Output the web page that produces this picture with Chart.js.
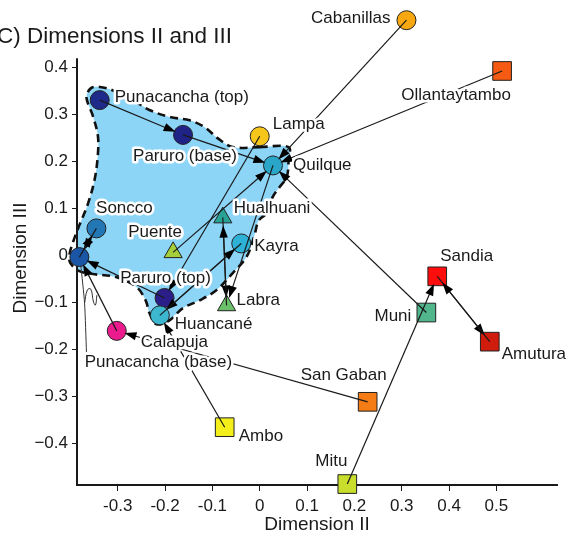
<!DOCTYPE html>
<html>
<head>
<meta charset="utf-8">
<script src="https://cdn.jsdelivr.net/npm/chart.js@4.4.1/dist/chart.umd.min.js"></script>
<style>
  html, body { margin: 0; padding: 0; background: #fff; overflow: hidden; }
  canvas { display: block; }
</style>
</head>
<body>
<canvas id="c" width="569" height="535"></canvas>
<script>
// Sites and their scores on dimensions II and III
const sites = [
  'Punacancha (top)', 'Paruro (base)', 'Lampa', 'Quilque', 'Cabanillas',
  'Ollantaytambo', 'Soncco', 'Punacancha (base)', 'Puente', 'Hualhuani',
  'Kayra', 'Paruro (top)', 'Labra', 'Huancané', 'Calapuja',
  'Sandia', 'Muni', 'Amutura', 'San Gaban', 'Ambo', 'Mitu'
];
const dim2 = [
  -0.338, -0.162, 0.000, 0.028, 0.310,
   0.512, -0.345, -0.381, -0.183, -0.078,
  -0.039, -0.201, -0.070, -0.211, -0.302,
   0.375, 0.352, 0.486, 0.228, -0.074, 0.185
];
const dim3 = [
   0.330, 0.256, 0.253, 0.191, 0.500,
   0.392, 0.057, -0.004, 0.006, 0.080,
   0.025, -0.091, -0.107, -0.128, -0.161,
  -0.045, -0.122, -0.184, -0.312, -0.366, -0.487
];
// Nearest neighbour of each site (arrow target)
const nearest = [
  'Paruro (base)', 'Quilque', 'Paruro (top)', 'Labra', 'Quilque',
  'Quilque', 'Punacancha (base)', 'Soncco', 'Quilque', 'Labra',
  'Huancané', 'Punacancha (base)', 'Hualhuani', 'Kayra', 'Punacancha (base)',
  'Amutura', 'Quilque', 'Sandia', 'Calapuja', 'Huancané', 'Sandia'
];

// Outline of the highlighted group
const hullDim2 = [
   0.000, 0.061, 0.061, 0.057, 0.042, 0.027, 0.017, -0.002, -0.011, -0.027,
  -0.057, -0.091, -0.127, -0.163, -0.190, -0.218, -0.233, -0.241, -0.260, -0.302,
  -0.353, -0.381, -0.400, -0.402, -0.395, -0.381, -0.364, -0.349, -0.342, -0.342,
  -0.353, -0.366, -0.357, -0.338, -0.311, -0.268, -0.233, -0.190, -0.148, -0.116,
  -0.089, -0.057
];
const hullDim3 = [
   0.230, 0.230, 0.202, 0.166, 0.145, 0.123, 0.091, 0.074, 0.043, -0.002,
  -0.038, -0.074, -0.096, -0.113, -0.138, -0.147, -0.123, -0.096, -0.068, -0.047,
  -0.040, -0.034, -0.017, 0.000, 0.026, 0.064, 0.106, 0.160, 0.213, 0.255,
   0.298, 0.336, 0.355, 0.358, 0.351, 0.330, 0.309, 0.294, 0.287, 0.272,
   0.249, 0.230
];

// Leader from the "Punacancha (base)" label to its marker
const leaderStemDim2 = [-0.378, -0.370, -0.366];
const leaderStemDim3 = [-0.021, -0.102, -0.206];
const leaderLoopDim2 = [-0.370, -0.364, -0.357, -0.351, -0.347, -0.344];
const leaderLoopDim3 = [-0.102, -0.074, -0.072, -0.100, -0.106, -0.085];

const xTickValues = [-0.3, -0.2, -0.1, 0, 0.1, 0.2, 0.3, 0.4, 0.5];
const xTickLabels = ['-0.3', '-0.2', '-0.1', '0', '0.1', '0.2', '0.3', '0.4', '0.5'];
const yTickValues = [-0.4, -0.3, -0.2, -0.1, 0, 0.1, 0.2, 0.3, 0.4];
const yTickLabels = ['\u22120.4', '\u22120.3', '\u22120.2', '\u22120.1', '0', '0.1', '0.2', '0.3', '0.4'];

// ---- styling ----
const FONT = '"Liberation Sans", Arial, Helvetica, sans-serif';
const INK = '#1a1a1a';
const Y_AXIS_TOP = 0.417;   // the vertical axis line stops here; markers may sit above it

const siteColor = {
  'Punacancha (top)': '#1d2a8a', 'Paruro (base)': '#1f2387', 'Lampa': '#f7c61a',
  'Quilque': '#2aa6c8', 'Cabanillas': '#f7a70f', 'Ollantaytambo': '#f55b12',
  'Soncco': '#2477b5', 'Punacancha (base)': '#1b55a6', 'Puente': '#a4cf3a',
  'Hualhuani': '#27a295', 'Kayra': '#2db1d6', 'Paruro (top)': '#2b1e88',
  'Labra': '#6abf69', 'Huancané': '#3db6cf', 'Calapuja': '#ec1b8d',
  'Sandia': '#ff0d0d', 'Muni': '#51b68c', 'Amutura': '#cf1c0d',
  'San Gaban': '#f57c14', 'Ambo': '#f4ef1a', 'Mitu': '#c9de2c'
};
const siteShape = {
  'Punacancha (top)': 'circle', 'Paruro (base)': 'circle', 'Lampa': 'circle',
  'Quilque': 'circle', 'Cabanillas': 'circle', 'Ollantaytambo': 'rect',
  'Soncco': 'circle', 'Punacancha (base)': 'circle', 'Puente': 'triangle',
  'Hualhuani': 'triangle', 'Kayra': 'circle', 'Paruro (top)': 'circle',
  'Labra': 'triangle', 'Huancané': 'circle', 'Calapuja': 'circle',
  'Sandia': 'rect', 'Muni': 'rect', 'Amutura': 'rect',
  'San Gaban': 'rect', 'Ambo': 'rect', 'Mitu': 'rect'
};
const shapeRadius = { circle: 9.5, rect: 13.2, triangle: 10.5 };

// label offset from the marker in pixels: [dx, dy, textAlign]
const labelPlace = {
  'Punacancha (top)': [15, -3, 'left'], 'Paruro (base)': [2, 21, 'center'],
  'Lampa': [13, -12, 'left'], 'Quilque': [20, 0, 'left'],
  'Cabanillas': [-16, -2, 'right'], 'Ollantaytambo': [-46, 24, 'center'],
  'Soncco': [28, -20, 'center'], 'Punacancha (base)': [79, 105, 'center'],
  'Puente': [-18, -20, 'center'], 'Hualhuani': [11, -9, 'left'],
  'Kayra': [13, 3, 'left'], 'Paruro (top)': [1, -20, 'center'],
  'Labra': [10, -5, 'left'], 'Huancané': [15, 9, 'left'],
  'Calapuja': [24, 11, 'left'], 'Sandia': [3, -20, 'left'],
  'Muni': [-15, 4, 'right'], 'Amutura': [12, 13, 'left'],
  'San Gaban': [-24, -27, 'center'], 'Ambo': [14, 9, 'left'],
  'Mitu': [-16, -23, 'center']
};

const toXY = (xs, ys) => xs.map((x, i) => ({ x, y: ys[i] }));
const hullPts = toXY(hullDim2, hullDim3);
hullPts.push(hullPts[0]);

const HULL_INDEX = 1;

// axis lines are laid over the group outline but under the markers
const axisLines = {
  id: 'axisLines',
  afterDatasetDraw(chart, args) {
    if (args.index !== HULL_INDEX) return;
    const { ctx, chartArea: a } = chart;
    const top = chart.scales.y.getPixelForValue(Y_AXIS_TOP);
    ctx.save();
    ctx.strokeStyle = INK;
    ctx.lineWidth = 2;
    ctx.lineCap = 'square';
    ctx.beginPath();
    ctx.moveTo(a.left, top);
    ctx.lineTo(a.left, a.bottom);
    ctx.lineTo(a.right, a.bottom);
    ctx.stroke();
    ctx.restore();
  }
};

function haloText(ctx, text, x, y, align) {
  ctx.textAlign = align;
  ctx.textBaseline = 'middle';
  ctx.lineJoin = 'round';
  ctx.lineWidth = 5;
  ctx.strokeStyle = '#fff';
  ctx.strokeText(text, x, y);
  ctx.fillStyle = INK;
  ctx.fillText(text, x, y);
}

const arrowsAndLabels = {
  id: 'arrowsAndLabels',
  afterDatasetsDraw(chart) {
    const { ctx } = chart;
    const xs = chart.scales.x, ys = chart.scales.y;
    const px = i => xs.getPixelForValue(dim2[i]);
    const py = i => ys.getPixelForValue(dim3[i]);
    const gap = 8, headLen = 12, headHalf = 4.2;

    ctx.save();
    ctx.strokeStyle = INK;
    ctx.fillStyle = '#000';
    ctx.lineWidth = 1.2;
    sites.forEach((s, i) => {
      const j = sites.indexOf(nearest[i]);
      const x0 = px(i), y0 = py(i), x1 = px(j), y1 = py(j);
      const L = Math.hypot(x1 - x0, y1 - y0);
      const ux = (x1 - x0) / L, uy = (y1 - y0) / L;
      const tx = x1 - ux * gap, ty = y1 - uy * gap;
      const bx = tx - ux * headLen, by = ty - uy * headLen;
      ctx.beginPath();
      ctx.moveTo(x0, y0);
      ctx.lineTo(bx + ux * 2, by + uy * 2);
      ctx.stroke();
      ctx.beginPath();
      ctx.moveTo(tx, ty);
      ctx.lineTo(bx - uy * headHalf, by + ux * headHalf);
      ctx.lineTo(bx + uy * headHalf, by - ux * headHalf);
      ctx.closePath();
      ctx.fill();
    });

    ctx.font = '17px ' + FONT;
    sites.forEach((s, i) => {
      const [dx, dy, align] = labelPlace[s];
      haloText(ctx, s, px(i) + dx, py(i) + dy, align);
    });

    // heading and axis titles
    ctx.fillStyle = INK;
    ctx.textBaseline = 'alphabetic';
    ctx.textAlign = 'left';
    ctx.font = '22.5px ' + FONT;
    ctx.fillText('C) Dimensions II and III', -3, 43);

    ctx.font = '19px ' + FONT;
    ctx.textAlign = 'center';
    const a = chart.chartArea;
    ctx.fillText('Dimension II', (a.left + a.right) / 2, 530);
    ctx.save();
    ctx.translate(26, 258);
    ctx.rotate(-Math.PI / 2);
    ctx.fillText('Dimension III', 0, 0);
    ctx.restore();
    ctx.restore();
  }
};

const tickFont = { family: FONT, size: 17 };

new Chart(document.getElementById('c'), {
  type: 'scatter',
  data: {
    datasets: [
      {
        label: 'sites',
        data: toXY(dim2, dim3),
        order: 1,
        clip: false,
        pointStyle: c => siteShape[sites[c.dataIndex]],
        pointRadius: c => shapeRadius[siteShape[sites[c.dataIndex]]],
        pointHoverRadius: c => shapeRadius[siteShape[sites[c.dataIndex]]],
        pointBackgroundColor: c => siteColor[sites[c.dataIndex]],
        pointBorderColor: '#222',
        pointBorderWidth: 1
      },
      {
        label: 'group',
        type: 'line',
        data: hullPts,
        order: 3,
        clip: false,
        showLine: true,
        tension: 0.35,
        fill: 'shape',
        backgroundColor: '#8dd5f7',
        borderColor: '#111',
        borderWidth: 2.6,
        borderDash: [8, 5],
        pointRadius: 0
      },
      {
        label: 'leader stem',
        type: 'line',
        data: toXY(leaderStemDim2, leaderStemDim3),
        order: 2,
        clip: false,
        tension: 0.2,
        borderColor: '#333',
        borderWidth: 1,
        pointRadius: 0,
        fill: false
      },
      {
        label: 'leader loop',
        type: 'line',
        data: toXY(leaderLoopDim2, leaderLoopDim3),
        order: 2,
        clip: false,
        tension: 0.45,
        borderColor: '#333',
        borderWidth: 1,
        pointRadius: 0,
        fill: false
      }
    ]
  },
  options: {
    responsive: false,
    animation: false,
    devicePixelRatio: 1,
    layout: { autoPadding: false, padding: { left: 0, right: 12, top: 14, bottom: 0 } },
    plugins: { legend: { display: false }, tooltip: { enabled: false }, title: { display: false } },
    scales: {
      x: {
        type: 'linear',
        min: -0.386,
        max: 0.628,
        afterBuildTicks: s => { s.ticks = xTickValues.map(v => ({ value: v })); },
        afterFit: s => { s.height = 50; },
        border: { display: false },
        grid: { drawOnChartArea: false, drawTicks: true, tickLength: 6, color: INK, lineWidth: 1 },
        ticks: { font: tickFont, color: INK, padding: 5, maxRotation: 0, autoSkip: false,
                 callback: (v, i) => xTickLabels[i] }
      },
      y: {
        type: 'linear',
        min: -0.489,
        max: 0.5128,
        afterBuildTicks: s => { s.ticks = yTickValues.map(v => ({ value: v })); },
        afterFit: s => { s.width = 77; },
        border: { display: false },
        grid: { drawOnChartArea: false, drawTicks: true, tickLength: 5, color: INK, lineWidth: 1 },
        ticks: { font: tickFont, color: INK, padding: 4, autoSkip: false,
                 callback: (v, i) => yTickLabels[i] }
      }
    }
  },
  plugins: [axisLines, arrowsAndLabels]
});
</script>
</body>
</html>
